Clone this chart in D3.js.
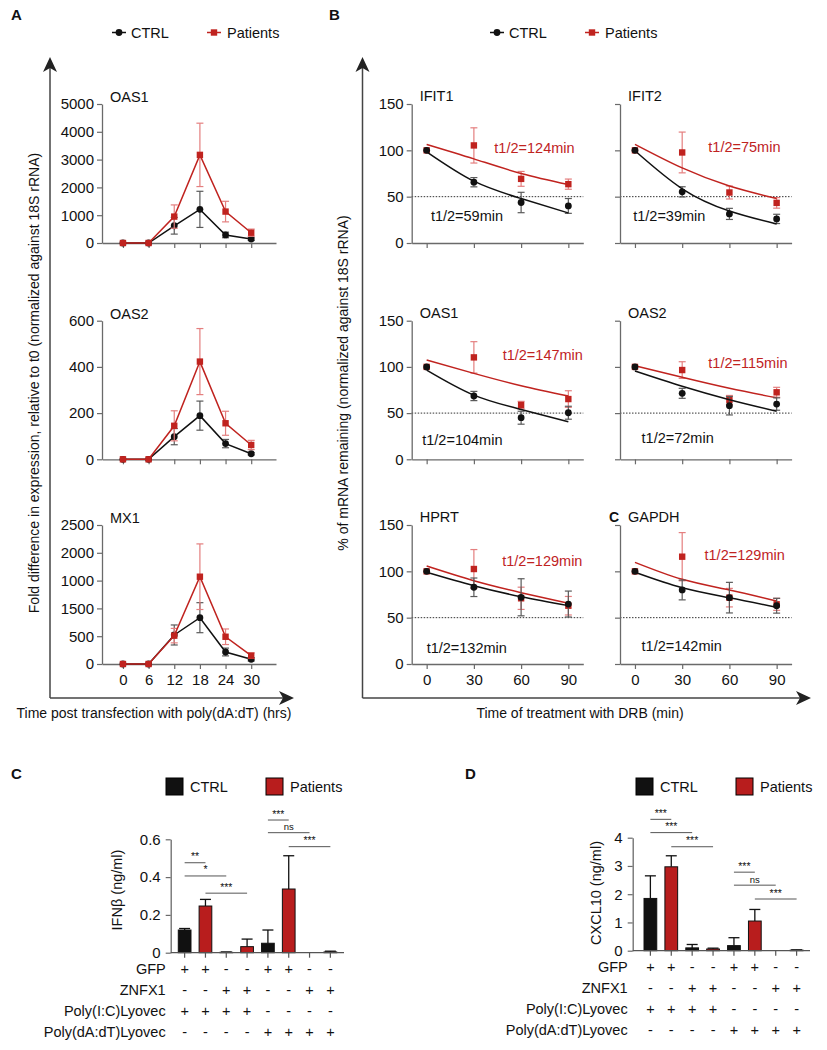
<!DOCTYPE html>
<html><head><meta charset="utf-8">
<script src="https://cdn.jsdelivr.net/npm/d3@7"></script>
<style>
body{margin:0;background:#fff}
svg{display:block}
text{font-family:"Liberation Sans",Arial,Helvetica,sans-serif;fill:#111}
</style>
</head><body>
<svg id="c" width="827" height="1050"></svg>
<script>
// ---------------- DATA ----------------
// Panel A: time course (hrs)
const hoursA = [0, 6, 12, 18, 24, 30];
const oas1Ctrl = [0, 0, 620, 1210, 290, 140];
const oas1CtrlErr = [0, 0, 300, 650, 100, 50];
const oas1Pat = [0, 0, 950, 3170, 1130, 370];
const oas1PatErr = [0, 0, 420, 1140, 370, 130];
const oas2Ctrl = [0, 0, 98, 189, 68, 24];
const oas2CtrlErr = [0, 0, 35, 63, 18, 5];
const oas2Pat = [0, 0, 145, 423, 156, 62];
const oas2PatErr = [0, 0, 65, 143, 52, 20];
const mx1Ctrl = [0, 0, 522, 833, 216, 84];
const mx1CtrlErr = [0, 0, 180, 270, 70, 30];
const mx1Pat = [0, 0, 510, 1570, 490, 150];
const mx1PatErr = [0, 0, 130, 590, 140, 50];
const oas1Ticks = [0, 1000, 2000, 3000, 4000, 5000];
const oas2Ticks = [0, 200, 400, 600];
const mx1Ticks = [0, 500, 1000, 1500, 2000, 2500];
const mx1TickLabels = ["0", "500", "1500", "1000", "2000", "2500"];

// Panel B: mRNA decay (min)
const minutesB = [0, 30, 60, 90];
const genesB = ["IFIT1", "IFIT2", "OAS1", "OAS2", "HPRT", "GAPDH"];
const ctrlB = [[100, 65.6, 43.7, 40], [100, 55.2, 31.4, 26], [100, 68.5, 45, 50.4], [100, 71.4, 58, 59.8], [100, 82.8, 72, 64.7], [100, 79.9, 71.6, 62.9]];
const ctrlErrB = [[0, 5, 11, 8], [0, 5.5, 6, 5], [0, 5, 7, 7], [0, 5.4, 10, 6.7], [0, 10, 20, 14], [0, 10.7, 16.5, 8]];
const patB = [[100, 105.3, 69.2, 63.5], [100, 97.7, 54.5, 43.3], [100, 110.3, 58.7, 65.2], [100, 96.6, 64.1, 72.5], [100, 102.5, 70.9, 62.9], [100, 115.8, 71.6, 64.4]];
const patErrB = [[0, 19, 8, 5.5], [0, 22, 7, 5.7], [0, 17, 4, 9], [0, 9, 5, 5.4], [0, 21, 12, 10], [0, 26, 10, 6.5]];
const ctrlFitB = [[98.4, 66.7, 48, 32.4], [99.5, 58.5, 34.5, 20.5], [96.6, 69.5, 54, 40.7], [95.5, 79, 64.5, 52], [99, 84.5, 72.6, 63], [99, 82.3, 71.6, 61.2]];
const patFitB = [[106.4, 90.8, 75, 63.1], [106.5, 81, 61.5, 48], [107.4, 93, 79.6, 68.5], [101.2, 88.7, 76.8, 66.6], [105.7, 89.9, 77, 65.5], [109.7, 91.4, 79.9, 68]];
const ctrlHalfLife = ["t1/2=59min", "t1/2=39min", "t1/2=104min", "t1/2=72min", "t1/2=132min", "t1/2=142min"];
const patHalfLife = ["t1/2=124min", "t1/2=75min", "t1/2=147min", "t1/2=115min", "t1/2=129min", "t1/2=129min"];
// label anchors in data units [minute, %]
const ctrlLabelAt = [[2.7, 28.9], [-1.1, 29.2], [-2.8, 20.9], [4.2, 22.6], [0, 16.9], [4.2, 19.4]];
const patLabelAt = [[43, 103], [46.6, 103.7], [48.3, 113.5], [46.6, 103.8], [48, 111.5], [44.2, 117.6]];
const bTicks = [0, 50, 100, 150];

// Panels C & D: bars
const conditions = ["+GFP/Poly(I:C)", "+ZNFX1/Poly(I:C)", "+GFP/Poly(dA:dT)", "+ZNFX1/Poly(dA:dT)"];
const ifnCtrl = [0.12, 0.002, 0.05, 0];
const ifnCtrlErr = [0.008, 0.002, 0.07, 0];
const ifnPat = [0.247, 0.032, 0.337, 0.004];
const ifnPatErr = [0.035, 0.04, 0.176, 0.004];
const cxclCtrl = [1.85, 0.1, 0.18, 0];
const cxclCtrlErr = [0.8, 0.12, 0.28, 0];
const cxclPat = [2.97, 0.06, 1.05, 0.02];
const cxclPatErr = [0.39, 0.03, 0.41, 0.01];
const ifnTicks = [0, 0.2, 0.4, 0.6];
const ifnTickLabels = ["0", "0.2", "0.4", "0.6"];
const cxclTicks = [0, 1, 2, 3, 4];
// significance: [bar from, bar to, label, level in data units]
const ifnSig = [[0, 1, "**", 0.476], [0, 2, "*", 0.406], [1, 3, "***", 0.315], [4, 5, "***", 0.702], [4, 6, "ns", 0.635], [5, 7, "***", 0.561]];
const cxclSig = [[0, 1, "***", 4.65], [0, 2, "***", 4.18], [1, 3, "***", 3.68], [4, 5, "***", 2.78], [4, 6, "ns", 2.32], [5, 7, "***", 1.83]];
const tableRowNames = ["GFP", "ZNFX1", "Poly(I:C)Lyovec", "Poly(dA:dT)Lyovec"];
const tableGFP = ["+", "+", "-", "-", "+", "+", "-", "-"];
const tableZNFX1 = ["-", "-", "+", "+", "-", "-", "+", "+"];
const tablePolyIC = ["+", "+", "+", "+", "-", "-", "-", "-"];
const tablePolyDADT = ["-", "-", "-", "-", "+", "+", "+", "+"];
const seriesNames = ["CTRL", "Patients"];

// ---------------- STYLE ----------------
const RED = "#c0231f", RED_ERR = "#e47f7f", BLK = "#111", BLK_ERR = "#5a5a5a", AX = "#6a6a6a";
const BAR_RED = "#b81d1d";
const svg = d3.select("#c");

function styleAxis(g) {
  g.attr("font-size", null).attr("font-family", null);
  g.select(".domain").attr("stroke", AX).attr("stroke-width", 1.3);
  g.selectAll(".tick line").attr("stroke", AX).attr("stroke-width", 1.2);
  g.selectAll(".tick text").style("font-size", "15px").attr("fill", "#111");
}

function arrowUp(x, yTip) {
  svg.append("path").attr("d", `M${x},${yTip} L${x + 7},${yTip + 15} L${x},${yTip + 11} L${x - 7},${yTip + 15} Z`).attr("fill", "#222");
}
function arrowRight(xTip, y) {
  svg.append("path").attr("d", `M${xTip},${y} L${xTip - 15},${y - 7} L${xTip - 11},${y} L${xTip - 15},${y + 7} Z`).attr("fill", "#222");
}

function errBars(g, xs, ys, es, x, y, color, cap) {
  xs.forEach((t, i) => {
    if (!es[i]) return;
    const cx = x(t), y1 = y(ys[i] + es[i]), y2 = y(Math.max(ys[i] - es[i], y.domain()[0]));
    g.append("line").attr("x1", cx).attr("x2", cx).attr("y1", y1).attr("y2", y2).attr("stroke", color).attr("stroke-width", 1.2);
    g.append("line").attr("x1", cx - cap).attr("x2", cx + cap).attr("y1", y1).attr("y2", y1).attr("stroke", color).attr("stroke-width", 1.2);
    g.append("line").attr("x1", cx - cap).attr("x2", cx + cap).attr("y1", y2).attr("y2", y2).attr("stroke", color).attr("stroke-width", 1.2);
  });
}
function circles(g, xs, ys, x, y) {
  g.selectAll(null).data(xs).enter().append("circle")
    .attr("cx", d => x(d)).attr("cy", (d, i) => y(ys[i])).attr("r", 3.4).attr("fill", BLK);
}
function squares(g, xs, ys, x, y) {
  g.selectAll(null).data(xs).enter().append("rect")
    .attr("x", d => x(d) - 3.2).attr("y", (d, i) => y(ys[i]) - 3.2).attr("width", 6.4).attr("height", 6.4).attr("fill", RED);
}

// ---------------- PANEL LABELS ----------------
function bold(x, y, t) {
  svg.append("text").attr("x", x).attr("y", y).attr("dy", "0.35em").style("font-size", "15px").style("font-weight", "bold").text(t);
}
bold(11, 15, "A"); bold(329, 15, "B"); bold(11, 774, "C"); bold(465, 774, "D");

// line legend
function lineLegend(x, y) {
  svg.append("line").attr("x1", x - 7).attr("x2", x + 7).attr("y1", y).attr("y2", y).attr("stroke", BLK).attr("stroke-width", 1.5);
  svg.append("circle").attr("cx", x).attr("cy", y).attr("r", 3.4).attr("fill", BLK);
  svg.append("text").attr("x", x + 12).attr("y", y).attr("dy", "0.35em").style("font-size", "14.5px").text(seriesNames[0]);
  const x2 = x + 95;
  svg.append("line").attr("x1", x2 - 7).attr("x2", x2 + 7).attr("y1", y).attr("y2", y).attr("stroke", RED).attr("stroke-width", 1.5);
  svg.append("rect").attr("x", x2 - 3.2).attr("y", y - 3.2).attr("width", 6.4).attr("height", 6.4).attr("fill", RED);
  svg.append("text").attr("x", x2 + 13).attr("y", y).attr("dy", "0.35em").style("font-size", "14.5px").text(seriesNames[1]);
}
lineLegend(119, 32.5);
lineLegend(497, 32.5);

// ---------------- PANEL A ----------------
const rowsY = [[104, 243], [320.7, 459.3], [525, 664]];
const xA = d3.scaleLinear().domain([-4.9, 35.8]).range([102, 276]);
const aSets = [
  {name: "OAS1", max: 5000, ticks: oas1Ticks, labels: null, c: oas1Ctrl, ce: oas1CtrlErr, p: oas1Pat, pe: oas1PatErr},
  {name: "OAS2", max: 600, ticks: oas2Ticks, labels: null, c: oas2Ctrl, ce: oas2CtrlErr, p: oas2Pat, pe: oas2PatErr},
  {name: "MX1", max: 2500, ticks: mx1Ticks, labels: mx1TickLabels, c: mx1Ctrl, ce: mx1CtrlErr, p: mx1Pat, pe: mx1PatErr}
];
aSets.forEach((s, r) => {
  const y = d3.scaleLinear().domain([0, s.max]).range([rowsY[r][1], rowsY[r][0]]);
  const g = svg.append("g");
  const ya = g.append("g").attr("transform", `translate(${xA.range()[0]},0)`)
    .call(d3.axisLeft(y).tickValues(s.ticks).tickSize(5).tickSizeOuter(0).tickPadding(3)
      .tickFormat((d, i) => s.labels ? s.labels[i] : d3.format("d")(d)));
  styleAxis(ya);
  const xa = g.append("g").attr("transform", `translate(0,${rowsY[r][1]})`)
    .call(d3.axisBottom(xA).tickValues(hoursA).tickSize(5).tickSizeOuter(0).tickPadding(5)
      .tickFormat(d => r === 2 ? d : ""));
  styleAxis(xa);
  g.append("text").attr("x", 110).attr("y", rowsY[r][0] - 7).attr("dy", "0.35em").style("font-size", "14.5px").text(s.name);
  const line = d3.line().x((d, i) => xA(hoursA[i])).y(d => y(d));
  errBars(g, hoursA, s.c, s.ce, xA, y, BLK_ERR, 3.5);
  g.append("path").attr("d", line(s.c)).attr("fill", "none").attr("stroke", BLK).attr("stroke-width", 1.5);
  circles(g, hoursA, s.c, xA, y);
  errBars(g, hoursA, s.p, s.pe, xA, y, RED_ERR, 3.5);
  g.append("path").attr("d", line(s.p)).attr("fill", "none").attr("stroke", RED).attr("stroke-width", 1.5);
  squares(g, hoursA, s.p, xA, y);
});
// big axes A
svg.append("line").attr("x1", 50).attr("x2", 50).attr("y1", 698).attr("y2", 66).attr("stroke", "#444").attr("stroke-width", 1.5);
svg.append("line").attr("x1", 50).attr("x2", 285).attr("y1", 698).attr("y2", 698).attr("stroke", "#444").attr("stroke-width", 1.5);
arrowUp(50, 57); arrowRight(294, 698);
svg.append("text").attr("transform", "translate(34,383) rotate(-90)").attr("text-anchor", "middle").attr("dy", "0.35em")
  .style("font-size", "14px").text("Fold difference in expression, relative to t0 (normalized against 18S rRNA)");
svg.append("text").attr("x", 154).attr("y", 713).attr("text-anchor", "middle").attr("dy", "0.35em")
  .style("font-size", "14px").text("Time post transfection with poly(dA:dT) (hrs)");

// ---------------- PANEL B ----------------
const xBL = d3.scaleLinear().domain([-9.5, 99.5]).range([411.7, 583.3]);
const xBR = d3.scaleLinear().domain([-9.5, 99.5]).range([620, 791.6]);
genesB.forEach((gene, k) => {
  const r = Math.floor(k / 2), col = k % 2;
  const x = col === 0 ? xBL : xBR;
  const y = d3.scaleLinear().domain([0, 150]).range([rowsY[r][1], rowsY[r][0]]);
  const g = svg.append("g");
  g.append("line").attr("x1", x.range()[0]).attr("x2", x.range()[1]).attr("y1", y(50)).attr("y2", y(50))
    .attr("stroke", "#333").attr("stroke-width", 1).attr("stroke-dasharray", "1.5,1.5");
  const ya = g.append("g").attr("transform", `translate(${x.range()[0]},0)`)
    .call(d3.axisLeft(y).tickValues(bTicks).tickSize(5).tickSizeOuter(0).tickPadding(3)
      .tickFormat(d => col === 0 ? d : ""));
  styleAxis(ya);
  const xa = g.append("g").attr("transform", `translate(0,${rowsY[r][1]})`)
    .call(d3.axisBottom(x).tickValues(minutesB).tickSize(5).tickSizeOuter(0).tickPadding(5)
      .tickFormat(d => r === 2 ? d : ""));
  styleAxis(xa);
  g.append("text").attr("x", x.range()[0] + 8).attr("y", rowsY[r][0] - 8).attr("dy", "0.35em").style("font-size", "14.5px").text(gene);
  const fit = d3.line().curve(d3.curveNatural).x((d, i) => x(minutesB[i])).y(d => y(d));
  errBars(g, minutesB, patB[k], patErrB[k], x, y, RED_ERR, 3.5);
  g.append("path").attr("d", fit(patFitB[k])).attr("fill", "none").attr("stroke", RED).attr("stroke-width", 1.5);
  squares(g, minutesB, patB[k], x, y);
  errBars(g, minutesB, ctrlB[k], ctrlErrB[k], x, y, BLK_ERR, 3.5);
  g.append("path").attr("d", fit(ctrlFitB[k])).attr("fill", "none").attr("stroke", BLK).attr("stroke-width", 1.5);
  circles(g, minutesB, ctrlB[k], x, y);
  g.append("text").attr("x", x(patLabelAt[k][0])).attr("y", y(patLabelAt[k][1])).attr("dy", "0.35em")
    .style("font-size", "14.5px").style("fill", RED).text(patHalfLife[k]);
  g.append("text").attr("x", x(ctrlLabelAt[k][0])).attr("y", y(ctrlLabelAt[k][1])).attr("dy", "0.35em")
    .style("font-size", "14.5px").text(ctrlHalfLife[k]);
});
svg.append("text").attr("x", 609).attr("y", 517).attr("dy", "0.35em").style("font-size", "14px").style("font-weight", "bold").text("C");
svg.append("line").attr("x1", 362.5).attr("x2", 362.5).attr("y1", 698).attr("y2", 66).attr("stroke", "#444").attr("stroke-width", 1.5);
svg.append("line").attr("x1", 362.5).attr("x2", 802).attr("y1", 698).attr("y2", 698).attr("stroke", "#444").attr("stroke-width", 1.5);
arrowUp(362.5, 57); arrowRight(811, 698);
svg.append("text").attr("transform", "translate(343,383) rotate(-90)").attr("text-anchor", "middle").attr("dy", "0.35em")
  .style("font-size", "14px").text("% of mRNA remaining (normalized against 18S rRNA)");
svg.append("text").attr("x", 580).attr("y", 713).attr("text-anchor", "middle").attr("dy", "0.35em")
  .style("font-size", "14px").text("Time of treatment with DRB (min)");

// ---------------- PANELS C & D ----------------
function barLegend(x, y) {
  svg.append("rect").attr("x", x).attr("y", y).attr("width", 17).attr("height", 17).attr("fill", BLK).attr("stroke", "#000");
  svg.append("text").attr("x", x + 24).attr("y", y + 8.5).attr("dy", "0.35em").style("font-size", "14.5px").text(seriesNames[0]);
  svg.append("rect").attr("x", x + 100).attr("y", y).attr("width", 17).attr("height", 17).attr("fill", BAR_RED).attr("stroke", "#000");
  svg.append("text").attr("x", x + 124).attr("y", y + 8.5).attr("dy", "0.35em").style("font-size", "14.5px").text(seriesNames[1]);
}
barLegend(166, 778);
barLegend(636, 778);

function barPanel(o) {
  const g = svg.append("g");
  const y = d3.scaleLinear().domain([0, o.max]).range([o.y0, o.yTop]);
  const x = d3.scaleBand().domain(d3.range(8)).range(o.band).paddingInner(0.39).paddingOuter(o.padOuter);
  const vals = [], errs = [];
  o.ctrl.forEach((v, i) => { vals.push(v, o.pat[i]); errs.push(o.ctrlErr[i], o.patErr[i]); });
  vals.forEach((v, i) => {
    const cx = x(i) + x.bandwidth() / 2;
    if (errs[i] > 0) {
      g.append("line").attr("x1", cx).attr("x2", cx).attr("y1", y(v)).attr("y2", y(v + errs[i])).attr("stroke", "#111").attr("stroke-width", 1.3);
      g.append("line").attr("x1", cx - 5.5).attr("x2", cx + 5.5).attr("y1", y(v + errs[i])).attr("y2", y(v + errs[i])).attr("stroke", "#111").attr("stroke-width", 1.3);
    }
    g.append("rect").attr("x", x(i)).attr("y", y(v)).attr("width", x.bandwidth()).attr("height", y(0) - y(v))
      .attr("fill", i % 2 === 0 ? BLK : BAR_RED).attr("stroke", "#111").attr("stroke-width", 1);
  });
  const ya = g.append("g").attr("transform", `translate(${o.axisX},0)`)
    .call(d3.axisLeft(y).tickValues(o.ticks).tickSize(5).tickSizeOuter(0).tickPadding(5)
      .tickFormat((d, i) => o.tickLabels ? o.tickLabels[i] : d));
  styleAxis(ya);
  g.append("line").attr("x1", o.axisX).attr("x2", o.axisEnd).attr("y1", o.y0).attr("y2", o.y0).attr("stroke", "#555").attr("stroke-width", 1.3);
  d3.range(8).forEach(i => {
    const cx = x(i) + x.bandwidth() / 2;
    g.append("line").attr("x1", cx).attr("x2", cx).attr("y1", o.y0).attr("y2", o.y0 + 5).attr("stroke", "#555").attr("stroke-width", 1.2);
  });
  g.append("text").attr("transform", `translate(${o.labelX},${o.labelY}) rotate(-90)`).attr("text-anchor", "middle").attr("dy", "0.35em")
    .style("font-size", "14.5px").text(o.title);
  o.sig.forEach(s => {
    const x1 = x(s[0]) + x.bandwidth() / 2, x2 = x(s[1]) + x.bandwidth() / 2, yy = y(s[3]);
    g.append("line").attr("x1", x1).attr("x2", x2).attr("y1", yy).attr("y2", yy).attr("stroke", "#555").attr("stroke-width", 1);
    g.append("text").attr("x", (x1 + x2) / 2).attr("y", yy - 2.5).attr("text-anchor", "middle")
      .style("font-size", s[2] === "ns" ? "9.5px" : "10.5px").text(s[2]);
  });
  const rows = [tableGFP, tableZNFX1, tablePolyIC, tablePolyDADT];
  const offs = [16.5, 37.5, 58.5, 79.5];
  rows.forEach((row, r) => {
    const ry = o.y0 + offs[r];
    g.append("text").attr("x", o.axisX - 5).attr("y", ry).attr("text-anchor", "end").attr("dy", "0.35em").style("font-size", "14.5px").text(tableRowNames[r]);
    row.forEach((sgn, i) => {
      g.append("text").attr("x", x(i) + x.bandwidth() / 2).attr("y", ry).attr("text-anchor", "middle").attr("dy", "0.35em")
        .style("font-size", "14.5px").text(sgn);
    });
  });
}
barPanel({max: 0.6, y0: 952.7, yTop: 839.3, band: [171, 344], padOuter: 0.35, axisX: 170.7, axisEnd: 344,
  ticks: ifnTicks, tickLabels: ifnTickLabels, ctrl: ifnCtrl, ctrlErr: ifnCtrlErr, pat: ifnPat, patErr: ifnPatErr,
  sig: ifnSig, title: "IFNβ (ng/ml)", labelX: 117, labelY: 890});
barPanel({max: 4, y0: 950.7, yTop: 837.7, band: [639, 808], padOuter: 0.24, axisX: 632.7, axisEnd: 810,
  ticks: cxclTicks, tickLabels: null, ctrl: cxclCtrl, ctrlErr: cxclCtrlErr, pat: cxclPat, patErr: cxclPatErr,
  sig: cxclSig, title: "CXCL10 (ng/ml)", labelX: 596, labelY: 893});
</script>
</body></html>
